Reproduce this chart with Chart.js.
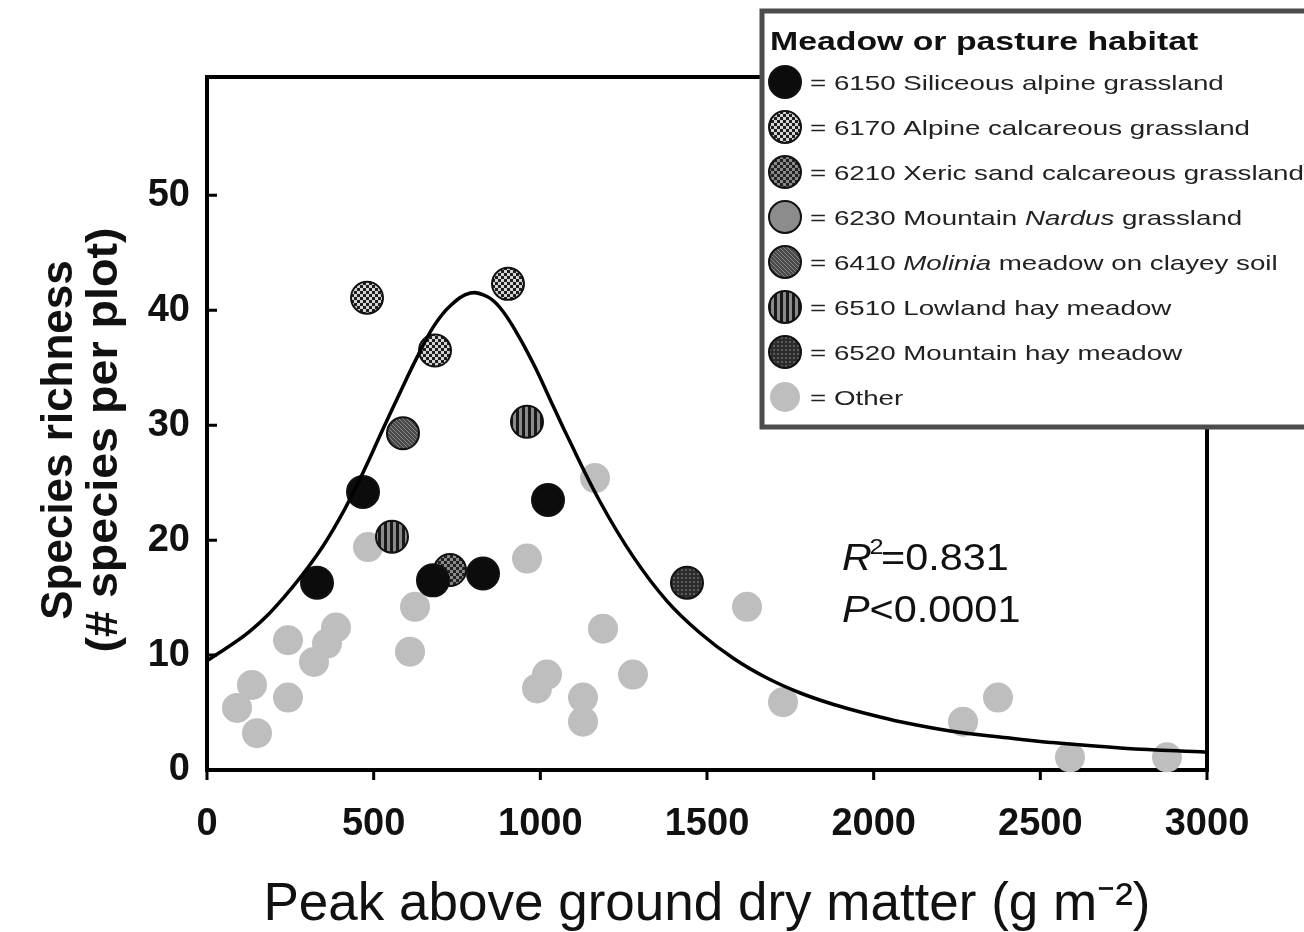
<!DOCTYPE html>
<html lang="en">
<head>
<meta charset="UTF-8">
<title>Species richness vs. peak above ground dry matter</title>
<script src="https://cdn.jsdelivr.net/npm/chart.js"></script>
<style>
  html, body { margin: 0; padding: 0; background: #fff; }
  #wrap { width: 1304px; height: 932px; }
</style>
</head>
<body>
<div id="wrap"><canvas id="chart" width="1304" height="932"></canvas></div>
<script>
// peak above ground dry matter (g m-2) and species per plot, one pair of arrays per habitat
var x6150 = [330, 468, 678, 828, 1023];
var y6150 = [16.3, 24.2, 16.5, 17.1, 23.5];
var x6170 = [480, 684, 903];
var y6170 = [41.1, 36.5, 42.3];
var x6210 = [729];
var y6210 = [17.4];
var x6230 = [];
var y6230 = [];
var x6410 = [588];
var y6410 = [29.3];
var x6510 = [555, 960];
var y6510 = [20.3, 30.3];
var x6520 = [1440];
var y6520 = [16.3];
var xOther = [90, 135, 150, 243, 243, 321, 360, 387, 483, 609, 624, 960, 990, 1020, 1128, 1128,
              1164, 1188, 1278, 1620, 1728, 2268, 2373, 2589, 2880];
var yOther = [5.4, 7.4, 3.2, 11.3, 6.3, 9.4, 11.0, 12.4, 19.4, 10.3, 14.2, 18.4, 7.1, 8.3, 6.3, 4.2,
              25.4, 12.3, 8.3, 14.2, 5.9, 4.2, 6.3, 1.1, 1.1];

// fitted curve
var fitX = [0, 130, 230, 330, 400, 470, 530, 580, 630, 680, 730, 790, 840, 880, 930, 980, 1030, 1080,
            1180, 1280, 1380, 1480, 1580, 1680, 1780, 1880, 1980, 2080, 2230, 2400, 2530, 2750, 3000];
var fitY = [9.5, 12.1, 15.0, 18.7, 22.0, 26.0, 29.8, 32.9, 35.9, 38.6, 40.4, 41.5, 41.2, 40.2, 38.0, 35.3, 32.2, 29.1,
            23.3, 18.5, 14.7, 11.9, 9.7, 8.0, 6.7, 5.7, 4.9, 4.2, 3.4, 2.8, 2.4, 1.9, 1.55];

var xTicks = [0, 500, 1000, 1500, 2000, 2500, 3000];
var yTicks = [0, 10, 20, 30, 40, 50];

// legend text, italic parts flagged
var legendLabels = [
  [['= 6150 Siliceous alpine grassland', false]],
  [['= 6170 Alpine calcareous grassland', false]],
  [['= 6210 Xeric sand calcareous grassland', false]],
  [['= 6230 Mountain ', false], ['Nardus', true], [' grassland', false]],
  [['= 6410 ', false], ['Molinia', true], [' meadow on clayey soil', false]],
  [['= 6510 Lowland hay meadow', false]],
  [['= 6520 Mountain hay meadow', false]],
  [['= Other', false]]
];

var yTitle = ['Species richness', '(# species per plot)'];

var FONT = '"Liberation Sans", Arial, Helvetica, sans-serif';
var canvas = document.getElementById('chart');
var ctx0 = canvas.getContext('2d');

function makePattern(size, paint) {
  var c = document.createElement('canvas');
  c.width = size;
  c.height = size;
  paint(c.getContext('2d'), size);
  return ctx0.createPattern(c, 'repeat');
}

function checker(dark, light) {
  return makePattern(6, function (g) {
    g.fillStyle = dark;
    g.fillRect(0, 0, 6, 6);
    g.fillStyle = light;
    g.fillRect(0, 0, 3, 3);
    g.fillRect(3, 3, 3, 3);
  });
}

var fill6170 = checker('#1e1e1e', '#d4d4d4');
var fill6210 = checker('#222', '#8a8a8a');
var fill6410 = makePattern(4, function (g) {
  g.fillStyle = '#4a4a4a';
  g.fillRect(0, 0, 4, 4);
  g.fillStyle = '#858585';
  g.fillRect(0, 0, 1, 1);
  g.fillRect(1, 1, 1, 1);
  g.fillRect(2, 2, 1, 1);
  g.fillRect(3, 3, 1, 1);
});
var fill6510 = makePattern(6, function (g) {
  g.fillStyle = '#181818';
  g.fillRect(0, 0, 6, 6);
  g.fillStyle = '#8a8a8a';
  g.fillRect(3, 0, 3, 6);
});
var fill6520 = makePattern(4, function (g) {
  g.fillStyle = '#2c2c2c';
  g.fillRect(0, 0, 4, 4);
  g.fillStyle = '#5c5c5c';
  g.fillRect(1, 1, 2, 2);
});

function pts(xs, ys) {
  return xs.map(function (x, i) { return { x: x, y: ys[i] }; });
}

function habitat(label, xs, ys, fill, order) {
  return {
    label: label,
    data: pts(xs, ys),
    backgroundColor: fill,
    borderColor: '#111',
    borderWidth: 2,
    pointRadius: 16,
    pointHoverRadius: 16,
    order: order
  };
}

var datasets = [
  {
    label: 'fit',
    type: 'line',
    data: pts(fitX, fitY),
    borderColor: '#000',
    borderWidth: 3.5,
    pointRadius: 0,
    fill: false,
    tension: 0.4,
    order: 0
  },
  habitat('6150', x6150, y6150, '#0c0c0c', 2),
  habitat('6170', x6170, y6170, fill6170, 2),
  habitat('6210', x6210, y6210, fill6210, 2),
  habitat('6230', x6230, y6230, '#8c8c8c', 2),
  habitat('6410', x6410, y6410, fill6410, 2),
  habitat('6510', x6510, y6510, fill6510, 2),
  habitat('6520', x6520, y6520, fill6520, 2),
  {
    label: 'Other',
    data: pts(xOther, yOther),
    backgroundColor: '#bebebe',
    borderWidth: 0,
    pointRadius: 15,
    pointHoverRadius: 15,
    order: 5
  }
];

// axis box with inward y ticks and outward x ticks, plus the two-line y title
var framePlugin = {
  id: 'frame',
  beforeDatasetsDraw: function (chart) {
    var ctx = chart.ctx, a = chart.chartArea;
    var xs = chart.scales.x, ys = chart.scales.y;
    ctx.save();
    ctx.strokeStyle = '#000';
    ctx.lineWidth = 4;
    ctx.strokeRect(a.left, a.top, a.right - a.left, a.bottom - a.top);
    ctx.lineWidth = 3;
    ctx.beginPath();
    yTicks.forEach(function (v) {
      var y = ys.getPixelForValue(v);
      ctx.moveTo(a.left, y);
      ctx.lineTo(a.left + 10, y);
    });
    xTicks.forEach(function (v) {
      var x = xs.getPixelForValue(v);
      ctx.moveTo(x, a.bottom);
      ctx.lineTo(x, a.bottom + 10);
    });
    ctx.stroke();

    ctx.translate(60, 440);
    ctx.rotate(-Math.PI / 2);
    ctx.fillStyle = '#111';
    ctx.font = 'bold 44px ' + FONT;
    ctx.textAlign = 'center';
    ctx.textBaseline = 'middle';
    ctx.fillText(yTitle[0], 0, 0);
    ctx.save();
    ctx.scale(1.06, 1);
    ctx.fillText(yTitle[1], 0, 45);
    ctx.restore();
    ctx.restore();
  }
};

function drawCircle(ctx, ds, cx, cy) {
  ctx.beginPath();
  ctx.arc(cx, cy, ds.pointRadius, 0, Math.PI * 2);
  ctx.fillStyle = ds.backgroundColor;
  ctx.fill();
  if (ds.borderWidth) {
    ctx.lineWidth = ds.borderWidth;
    ctx.strokeStyle = ds.borderColor;
    ctx.stroke();
  }
}

// stats text and habitat legend on top
var notesPlugin = {
  id: 'notes',
  afterDraw: function (chart) {
    var ctx = chart.ctx;
    ctx.save();
    ctx.fillStyle = '#111';
    ctx.textBaseline = 'alphabetic';

    // R2 and P
    ctx.save();
    ctx.translate(842, 570);
    ctx.scale(1.15, 1);
    ctx.font = 'italic 36px ' + FONT;
    ctx.fillText('R', 0, 0);
    var w = ctx.measureText('R').width;
    ctx.font = '22px ' + FONT;
    ctx.fillText('2', w - 2, -16);
    ctx.font = '36px ' + FONT;
    ctx.fillText('=0.831', w + 8, 0);
    ctx.restore();

    ctx.save();
    ctx.translate(842, 622);
    ctx.scale(1.15, 1);
    ctx.font = 'italic 36px ' + FONT;
    ctx.fillText('P', 0, 0);
    w = ctx.measureText('P').width;
    ctx.font = '36px ' + FONT;
    ctx.fillText('<0.0001', w, 0);
    ctx.restore();

    // legend box
    ctx.fillStyle = '#fff';
    ctx.fillRect(762, 11, 620, 416);
    ctx.strokeStyle = '#4d4d4d';
    ctx.lineWidth = 5;
    ctx.strokeRect(762, 11, 620, 416);

    ctx.fillStyle = '#111';
    ctx.save();
    ctx.translate(770, 50);
    ctx.scale(1.3, 1);
    ctx.font = 'bold 26px ' + FONT;
    ctx.fillText('Meadow or pasture habitat', 0, 0);
    ctx.restore();

    var sets = chart.data.datasets.slice(1);
    sets.forEach(function (ds, i) {
      var cy = 82 + i * 45;
      drawCircle(ctx, ds, 785, cy);
      ctx.save();
      ctx.translate(810, cy + 8);
      ctx.scale(1.32, 1);
      ctx.fillStyle = '#222';
      var tx = 0;
      legendLabels[i].forEach(function (part) {
        ctx.font = (part[1] ? 'italic ' : '') + '21px ' + FONT;
        ctx.fillText(part[0], tx, 0);
        tx += ctx.measureText(part[0]).width;
      });
      ctx.restore();
    });
    ctx.restore();
  }
};

new Chart(canvas, {
  type: 'scatter',
  data: { datasets: datasets },
  options: {
    responsive: false,
    animation: false,
    devicePixelRatio: 1,
    clip: false,
    layout: { padding: { left: 0, right: 97, top: 77, bottom: 0 } },
    plugins: {
      legend: { display: false },
      tooltip: { enabled: false }
    },
    scales: {
      x: {
        type: 'linear',
        min: 0,
        max: 3000,
        afterBuildTicks: function (s) { s.ticks = xTicks.map(function (v) { return { value: v }; }); },
        afterFit: function (s) { s.height = 162; },
        border: { display: false },
        grid: { display: false, drawTicks: false },
        ticks: {
          padding: 32,
          maxRotation: 0,
          color: '#111',
          font: { family: FONT, size: 38, weight: 'bold' },
          callback: function (v) { return String(v); }
        },
        title: {
          display: true,
          text: 'Peak above ground dry matter (g m\u207B\u00B2)',
          color: '#111',
          padding: { top: 0, bottom: 0 },
          font: { family: FONT, size: 53, lineHeight: 1.0 }
        }
      },
      y: {
        type: 'linear',
        min: 0,
        max: 60.3,
        afterBuildTicks: function (s) { s.ticks = yTicks.map(function (v) { return { value: v }; }); },
        afterFit: function (s) { s.width = 207; },
        border: { display: false },
        grid: { display: false, drawTicks: false },
        ticks: {
          padding: 17,
          color: '#111',
          font: { family: FONT, size: 38, weight: 'bold' },
          callback: function (v) { return String(v); }
        }
      }
    }
  },
  plugins: [framePlugin, notesPlugin]
});
</script>
</body>
</html>
